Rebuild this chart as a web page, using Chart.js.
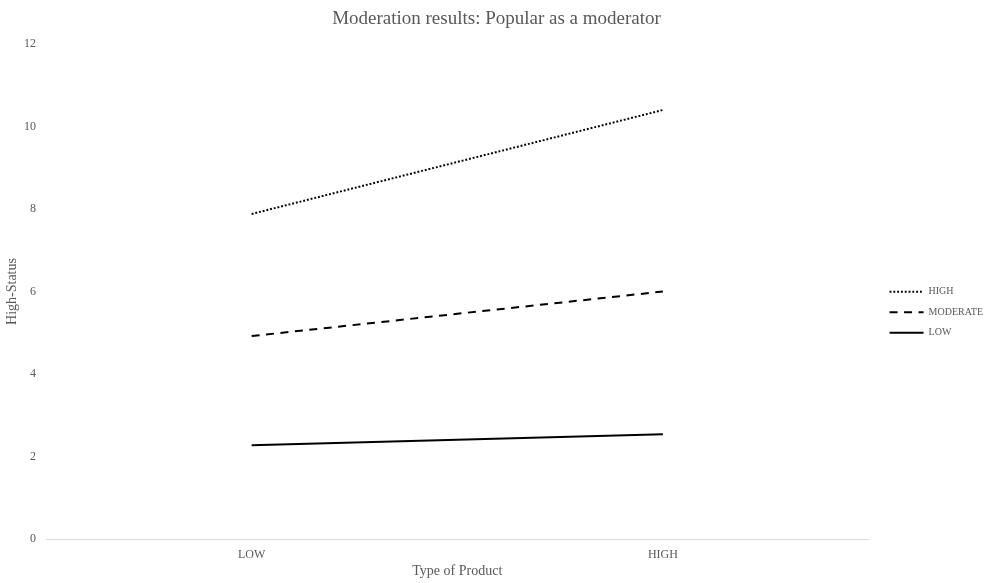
<!DOCTYPE html>
<html>
<head>
<meta charset="utf-8">
<script src="https://cdn.jsdelivr.net/npm/chart.js@4.4.1/dist/chart.umd.min.js"></script>
<style>
html,body{margin:0;padding:0;background:#fff;}
#wrap{width:1005px;height:583px;position:relative;}
</style>
</head>
<body>
<div id="wrap"><canvas id="c" width="1005" height="583"></canvas></div>
<script>
const categories = ["LOW", "HIGH"];
const seriesNames = ["HIGH", "MODERATE", "LOW"];
const highValues = [7.88, 10.40];
const moderateValues = [4.92, 6.00];
const lowValues = [2.27, 2.54];
const yTicks = [0, 2, 4, 6, 8, 10, 12];

const FONT = "'Liberation Serif', 'Times New Roman', serif";
const GREY = "#595959";

new Chart(document.getElementById('c'), {
  type: 'line',
  data: {
    labels: categories,
    datasets: [
      {label: seriesNames[0], data: highValues, borderColor: '#000', backgroundColor: '#000', borderWidth: 2, borderDash: [1.9, 1.9], pointRadius: 0, pointStyle: 'line', fill: false, tension: 0},
      {label: seriesNames[1], data: moderateValues, borderColor: '#000', backgroundColor: '#000', borderWidth: 2, borderDash: [8, 6.5], pointRadius: 0, pointStyle: 'line', fill: false, tension: 0},
      {label: seriesNames[2], data: lowValues, borderColor: '#000', backgroundColor: '#000', borderWidth: 2, pointRadius: 0, pointStyle: 'line', fill: false, tension: 0}
    ]
  },
  options: {
    responsive: false,
    animation: false,
    layout: {padding: {left: 0, right: 12, top: 0, bottom: 3.4}},
    plugins: {
      title: {display: true, text: 'Moderation results: Popular as a moderator', color: GREY, font: {family: FONT, size: 19, weight: 'normal'}, padding: {top: 8, bottom: 13.2}},
      legend: {
        display: true, position: 'right', align: 'center',
        title: {display: true, text: '', padding: 0, font: {family: FONT, size: 10, lineHeight: 4.48}},
        labels: {
          usePointStyle: true, pointStyleWidth: 34, boxHeight: 10, color: GREY, font: {family: FONT, size: 10}, padding: 10.5,
          generateLabels: (chart) => {
            const items = Chart.defaults.plugins.legend.labels.generateLabels(chart);
            items.forEach(it => {
              const ds = chart.data.datasets[it.datasetIndex];
              it.lineDash = ds.borderDash || [];
              it.lineWidth = ds.borderWidth;
              it.strokeStyle = ds.borderColor;
              it.pointStyle = 'line';
            });
            return items;
          }
        }
      },
      tooltip: {enabled: false}
    },
    scales: {
      x: {
        offset: true,
        grid: {display: false, drawTicks: false},
        border: {display: true, color: '#d9d9d9', width: 1},
        ticks: {color: GREY, font: {family: FONT, size: 12}, padding: 8.5},
        title: {display: true, text: 'Type of Product', color: GREY, font: {family: FONT, size: 14}, padding: {top: -7.6, bottom: 0}}
      },
      y: {
        min: 0, max: 12,
        afterBuildTicks: (axis) => { axis.ticks = yTicks.map(v => ({value: v})); },
        grid: {display: false, drawTicks: false},
        border: {display: false},
        ticks: {color: GREY, font: {family: FONT, size: 12}, padding: 10},
        title: {display: true, text: 'High-Status', color: GREY, font: {family: FONT, size: 14}, padding: {top: 4.1, bottom: -6.9}}
      },
      yRightGap: {
        position: 'right',
        display: true,
        grid: {display: false, drawTicks: false},
        border: {display: false},
        ticks: {display: false},
        afterFit: (scale) => { scale.width = 10.5; }
      }
    }
  }
});
</script>
</body>
</html>
